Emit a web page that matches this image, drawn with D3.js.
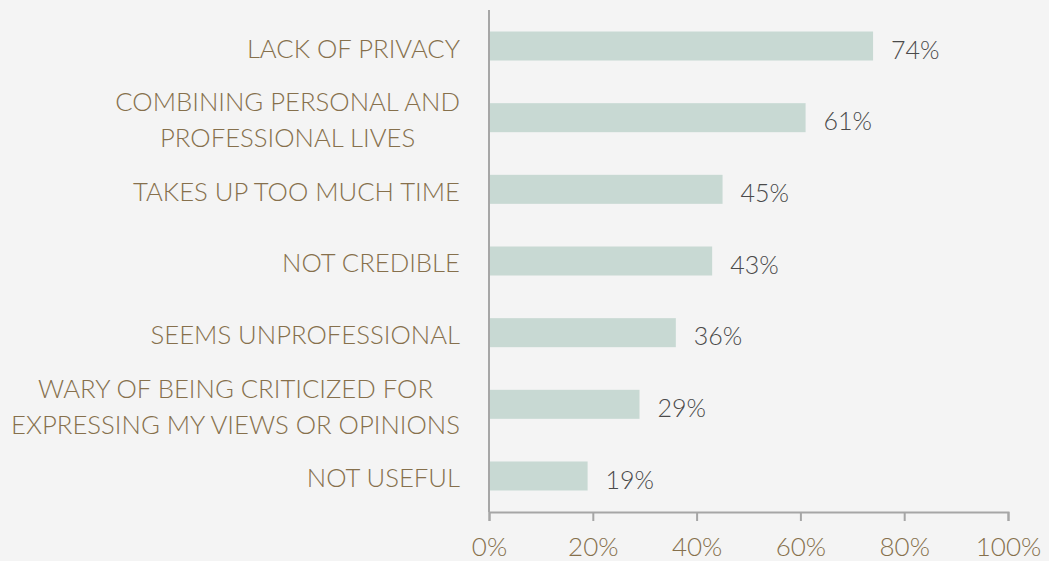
<!DOCTYPE html>
<html>
<head>
<meta charset="utf-8">
<script src="https://cdn.jsdelivr.net/npm/d3@7"></script>
<style>
  html, body { margin: 0; padding: 0; background: #f4f4f4; }
  svg { display: block; }
</style>
</head>
<body>
<div id="chart"></div>
<script>
// categories (top to bottom), each label split into its lines
const categories = [
    ["LACK OF PRIVACY"],
    ["COMBINING PERSONAL AND", "PROFESSIONAL LIVES"],
    ["TAKES UP TOO MUCH TIME"],
    ["NOT CREDIBLE"],
    ["SEEMS UNPROFESSIONAL"],
    ["WARY OF BEING CRITICIZED FOR", "EXPRESSING MY VIEWS OR OPINIONS"],
    ["NOT USEFUL"]
];
const values = [74, 61, 45, 43, 36, 29, 19];
const xTicks = [0, 20, 40, 60, 80, 100];

function renderChart() {
    const width = 1049;
    const height = 561;
    const margin = { top: 10, right: 41, bottom: 49, left: 489 };

    const svg = d3.select("#chart").append("svg")
        .attr("width", width)
        .attr("height", height);

    svg.append("rect")
        .attr("width", width)
        .attr("height", height)
        .attr("fill", "#f4f4f4");

    const rows = categories.map((lines, i) => ({ lines, value: values[i], key: i }));

    const x = d3.scaleLinear()
        .domain([0, 100])
        .range([margin.left, width - margin.right]);

    const y = d3.scaleBand()
        .domain(rows.map(d => d.key))
        .range([margin.top, height - margin.bottom])
        .paddingInner(0.595)
        .paddingOuter(0.3);

    // bars
    svg.append("g")
        .selectAll("rect")
        .data(rows)
        .enter()
        .append("rect")
        .attr("x", x(0))
        .attr("y", d => y(d.key))
        .attr("width", d => x(d.value) - x(0))
        .attr("height", y.bandwidth())
        .attr("fill", "#c8d9d3");

    // value labels
    svg.append("g")
        .selectAll("text")
        .data(rows)
        .enter()
        .append("text")
        .attr("x", d => x(d.value) + 18)
        .attr("y", d => y(d.key) + y.bandwidth() / 2 + 4)
        .attr("dy", "0.35em")
        .attr("font-family", "Lato, sans-serif")
        .attr("font-weight", 300)
        .attr("font-size", 25)
        .attr("fill", "#4a4a4a")
        .text(d => d.value + "%");

    // category labels: block right-aligned, lines centred within the block
    const labelRight = margin.left - 29;
    const lineH = 35.5;
    const labels = svg.append("g")
        .selectAll("text")
        .data(rows)
        .enter()
        .append("text")
        .attr("font-family", "Lato, sans-serif")
        .attr("font-weight", 300)
        .attr("font-size", 25.7)
        .attr("fill", "#86704c")
        .attr("text-anchor", "middle");

    labels.each(function (d) {
        const t = d3.select(this);
        const cy = y(d.key) + y.bandwidth() / 2 + 2.5;
        d.lines.forEach((line, j) => {
            t.append("tspan")
                .attr("y", cy + (j - (d.lines.length - 1) / 2) * lineH)
                .attr("dy", "0.35em")
                .text(line);
        });
        let maxW = 0;
        t.selectAll("tspan").each(function () {
            maxW = Math.max(maxW, this.getComputedTextLength());
        });
        t.selectAll("tspan").attr("x", labelRight - maxW / 2);
    });

    // y axis line
    svg.append("line")
        .attr("x1", x(0))
        .attr("x2", x(0))
        .attr("y1", margin.top)
        .attr("y2", height - margin.bottom)
        .attr("stroke", "#a6a6a6")
        .attr("stroke-width", 2);

    // x axis
    const xAxis = svg.append("g")
        .attr("transform", `translate(0,${height - margin.bottom})`)
        .call(d3.axisBottom(x)
            .tickValues(xTicks)
            .tickSize(9)
            .tickPadding(17)
            .tickFormat(d => d + "%"));

    xAxis.select(".domain")
        .attr("stroke", "#a6a6a6")
        .attr("stroke-width", 2);
    xAxis.selectAll(".tick line")
        .attr("stroke", "#a6a6a6")
        .attr("stroke-width", 2);
    xAxis.selectAll(".tick text")
        .attr("font-family", "Lato, sans-serif")
        .attr("font-weight", 300)
        .attr("font-size", 26)
        .attr("fill", "#86704c");
}

renderChart();
</script>
</body>
</html>
